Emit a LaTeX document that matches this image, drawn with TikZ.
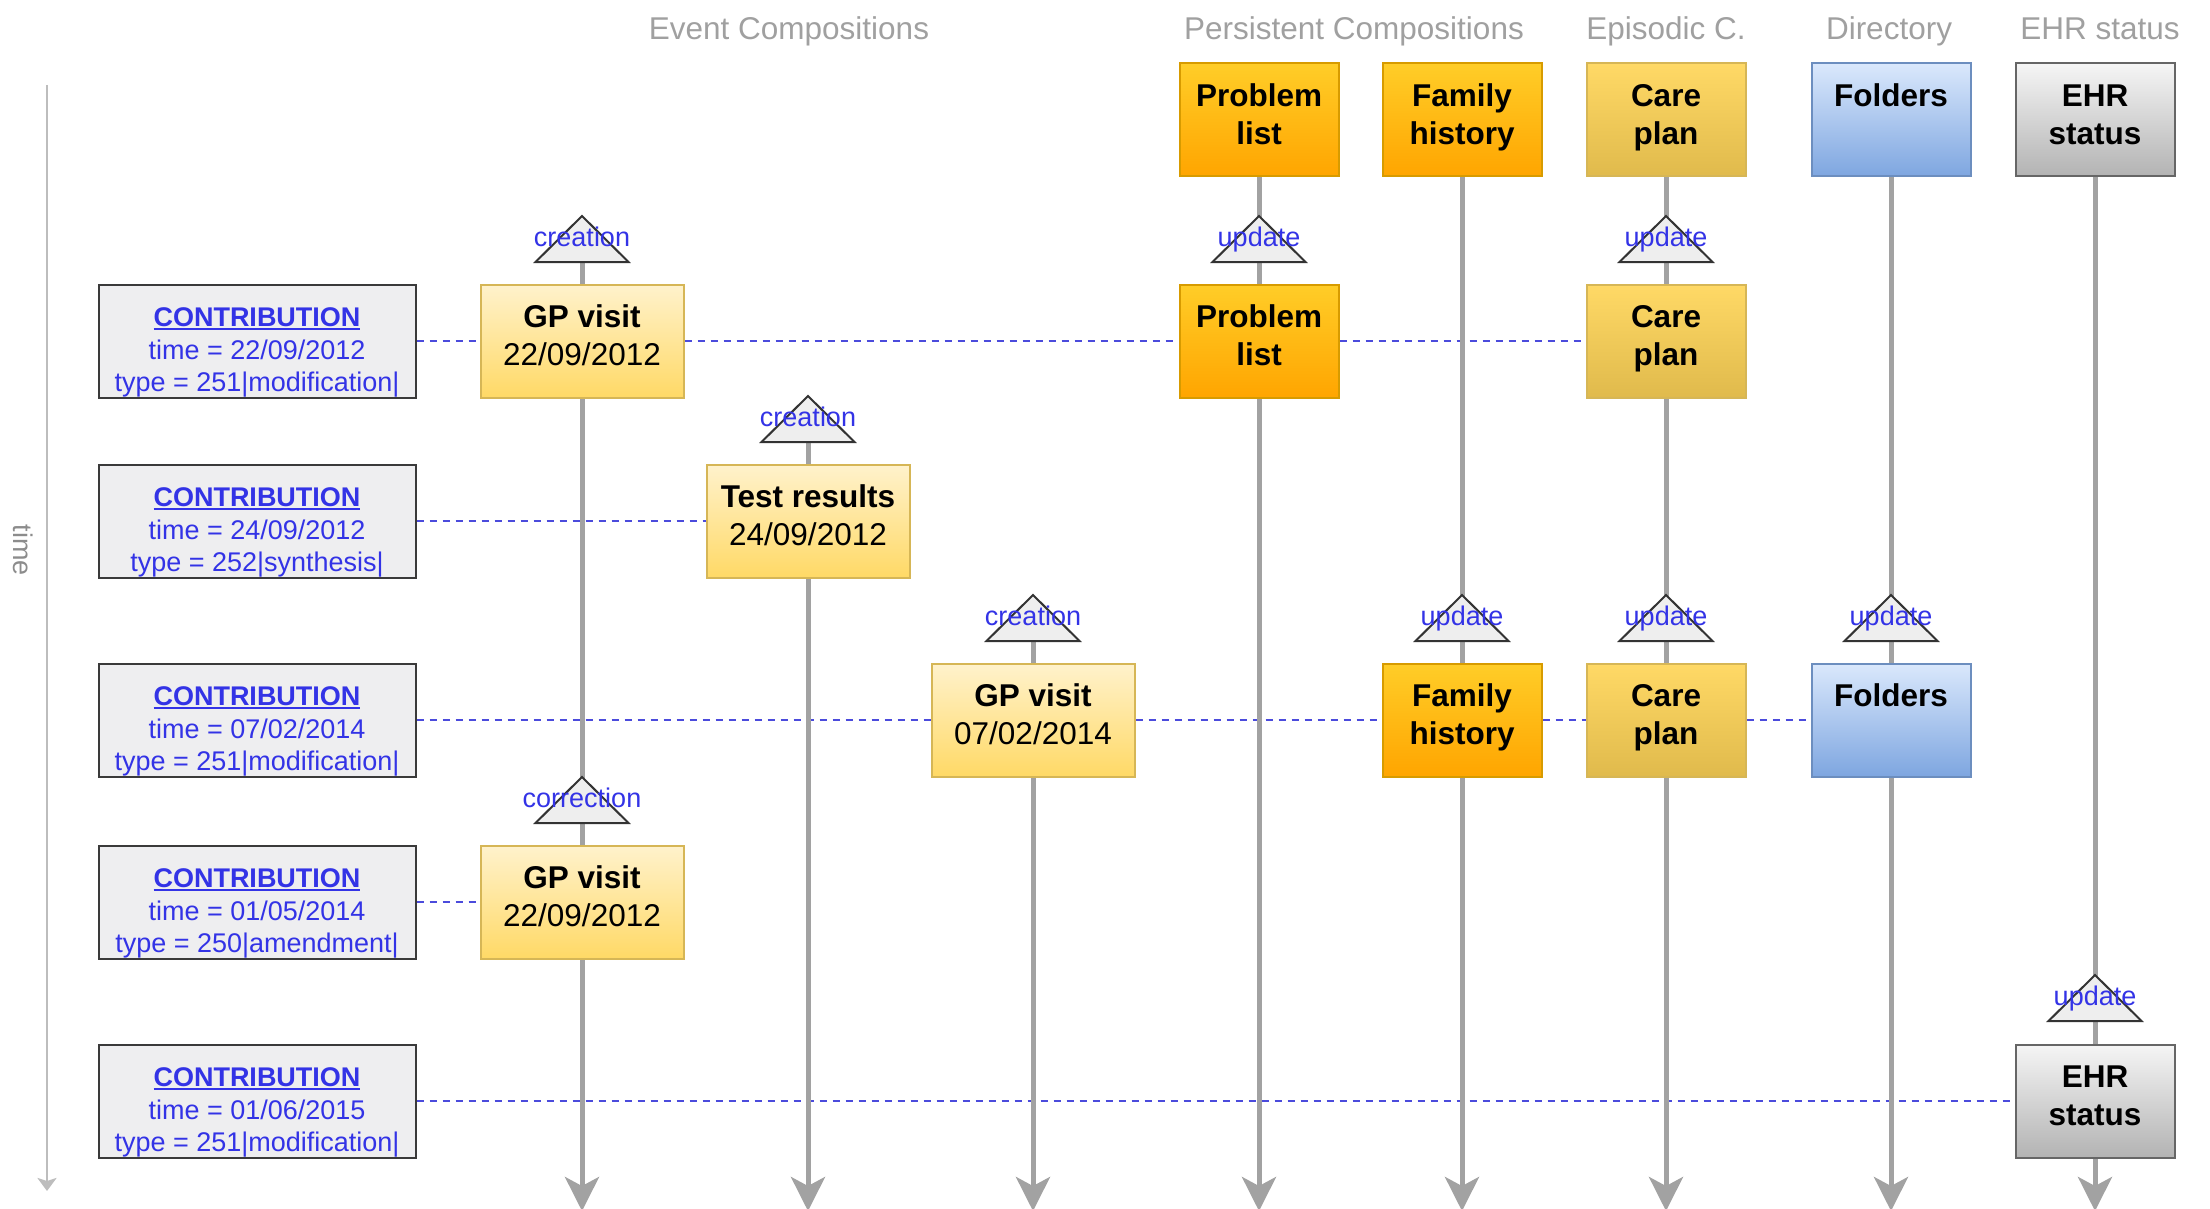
\documentclass[tikz,border=0pt]{standalone}
\usepackage{fontspec}
\setmainfont{Liberation Sans}
\usetikzlibrary{arrows.meta}
\pgfdeclarelayer{bg}
\pgfsetlayers{bg,main}

\definecolor{hdrgrey}{HTML}{A0A0A0}
\definecolor{labelgrey}{HTML}{8C8C8C}
\definecolor{lifegrey}{HTML}{A2A2A2}
\definecolor{timegrey}{HTML}{BDBDBD}
\definecolor{linkblue}{HTML}{4B4BDC}
\definecolor{txtblue}{HTML}{3333E6}
\definecolor{evtop}{HTML}{FFF2CC}
\definecolor{evbot}{HTML}{FFD966}
\definecolor{evline}{HTML}{D6B656}
\definecolor{pertop}{HTML}{FFCD28}
\definecolor{perbot}{HTML}{FFA500}
\definecolor{perline}{HTML}{D79B00}
\definecolor{epitop}{HTML}{FFD966}
\definecolor{epibot}{HTML}{E0BA4C}
\definecolor{epiline}{HTML}{D6B656}
\definecolor{dirtop}{HTML}{DAE8FC}
\definecolor{dirbot}{HTML}{7EA6E0}
\definecolor{dirline}{HTML}{6C8EBF}
\definecolor{ehrtop}{HTML}{F5F5F5}
\definecolor{ehrbot}{HTML}{B3B3B3}
\definecolor{ehrline}{HTML}{666666}
\definecolor{cfill}{HTML}{EEEEF0}
\definecolor{cline}{HTML}{3A3A3A}
\definecolor{trifill}{HTML}{EEEEEE}
\definecolor{tridraw}{HTML}{333333}

\newcommand\fsz[2]{\fontsize{#1}{#2}\selectfont}
% fixed depth for the last line of a box label
\newcommand\ld{\rule[-11pt]{0pt}{0pt}}
\newsavebox\culbox
\newcommand\cul[1]{\sbox\culbox{#1}\rlap{\rule[-3.5pt]{\wd\culbox}{1.8pt}}\usebox\culbox}
\newcommand\ctitle{\rule{0pt}{42pt}{\bfseries\fsz{27}{32.4}\cul{CONTRIBUTION}}}
% change marker: triangle with apex at (#2,#3) and its label node #1
\newcommand\chmark[4]{%
  \path[markshape] (#2,#3) -- ++(-46.5,46) -- ++(93,0) -- cycle;
  \node[marklbl] (#1) at (#2,#3+30) {#4};}

\begin{document}
\begin{tikzpicture}[x=1pt,y=-1pt,
  hdr/.style={text=hdrgrey, font=\fsz{31.5}{38}, inner sep=0pt, anchor=base},
  box/.style={line width=2pt, align=center, inner sep=0pt, minimum height=113pt, font=\fsz{31.5}{38}},
  ev/.style={box, minimum width=203pt, draw=evline, top color=evtop, bottom color=evbot},
  pers/.style={box, minimum width=159pt, draw=perline, top color=pertop, bottom color=perbot, font=\bfseries\fsz{31.5}{38}},
  epi/.style={box, minimum width=159pt, draw=epiline, top color=epitop, bottom color=epibot, font=\bfseries\fsz{31.5}{38}},
  dir/.style={box, minimum width=159pt, draw=dirline, top color=dirtop, bottom color=dirbot, font=\bfseries\fsz{31.5}{38}},
  ehr/.style={box, minimum width=159pt, draw=ehrline, top color=ehrtop, bottom color=ehrbot, font=\bfseries\fsz{31.5}{38}},
  contrib/.style={draw=cline, fill=cfill, line width=2pt, minimum width=317pt, minimum height=113pt,
    align=center, inner sep=0pt, text=txtblue, font=\fsz{27}{32.4}},
  markshape/.style={fill=trifill, draw=tridraw, line width=2pt, line join=miter},
  marklbl/.style={text=txtblue, font=\fsz{27}{32}, inner sep=0pt, anchor=base},
  lifeline/.style={draw=lifegrey, line width=5pt, -{Stealth[length=34pt, width=34pt, inset=9pt]}},
  link/.style={draw=linkblue, line width=2pt, dash pattern=on 7pt off 6pt},
  timeline/.style={draw=timegrey, line width=2.5pt, -{Stealth[length=13pt, width=19pt, inset=3pt]}}
]
\useasboundingbox (0,0) rectangle (2210,1209);

% column headings
\node[hdr] (hEvent) at (789,39.5) {Event Compositions};
\node[hdr] (hPers) at (1354,39.5) {Persistent Compositions};
\node[hdr] (hEpi) at (1666,39.5) {Episodic C.};
\node[hdr] (hDir) at (1889,39.5) {Directory};
\node[hdr] (hEhr) at (2100,39.5) {EHR status};

% time axis
\coordinate (tstart) at (47,85);
\coordinate (tend) at (47,1191);
\node[text=labelgrey, font=\fsz{27}{32}, inner sep=0pt, rotate=-90] (tlabel) at (23,550) {time};

% initial versioned objects
\node[pers] (plT) at (1259,120) {Problem\\list\ld};
\node[pers] (fhT) at (1462,120) {Family\\history\ld};
\node[epi]  (cpT) at (1666,120) {Care\\plan\ld};
\node[dir]  (foT) at (1891,120) {Folders\\\ld};
\node[ehr]  (ehT) at (2095,120) {EHR\\status\ld};

% contributions
\node[contrib] (c1) at (257,341) {\ctitle\\time = 22/09/2012\\type = 251|modification|};
\node[contrib] (c2) at (257,521) {\ctitle\\time = 24/09/2012\\type = 252|synthesis|};
\node[contrib] (c3) at (257,720) {\ctitle\\time = 07/02/2014\\type = 251|modification|};
\node[contrib] (c4) at (257,902) {\ctitle\\time = 01/05/2014\\type = 250|amendment|};
\node[contrib] (c5) at (257,1101) {\ctitle\\time = 01/06/2015\\type = 251|modification|};

% versions committed by each contribution
\node[ev] (gp1) at (582,341) {\textbf{GP visit}\\22/09/2012\ld};
\node[pers] (pl1) at (1259,341) {Problem\\list\ld};
\node[epi] (cp1) at (1666,341) {Care\\plan\ld};

\node[ev] (tr2) at (808,521) {\textbf{Test results}\\24/09/2012\ld};

\node[ev] (gp3) at (1033,720) {\textbf{GP visit}\\07/02/2014\ld};
\node[pers] (fh3) at (1462,720) {Family\\history\ld};
\node[epi] (cp3) at (1666,720) {Care\\plan\ld};
\node[dir] (fo3) at (1891,720) {Folders\\\ld};

\node[ev] (gp4) at (582,902) {\textbf{GP visit}\\22/09/2012\ld};

\node[ehr] (eh5) at (2095,1101) {EHR\\status\ld};

% change markers
\chmark{m1a}{582}{216}{creation}
\chmark{m1b}{1259}{216}{update}
\chmark{m1c}{1666}{216}{update}
\chmark{m2a}{808}{396}{creation}
\chmark{m3a}{1033}{595}{creation}
\chmark{m3b}{1462}{595}{update}
\chmark{m3c}{1666}{595}{update}
\chmark{m3d}{1891}{595}{update}
\chmark{m4a}{582}{777}{correction}
\chmark{m5a}{2095}{975}{update}

% ends of the lifelines
\coordinate (e1) at (582,1211);
\coordinate (e2) at (808,1211);
\coordinate (e3) at (1033,1211);
\coordinate (e4) at (1259,1211);
\coordinate (e5) at (1462,1211);
\coordinate (e6) at (1666,1211);
\coordinate (e7) at (1891,1211);
\coordinate (e8) at (2095,1211);

\begin{pgfonlayer}{bg}
  % contribution links
  \draw[link] (c1.east) -- (gp1.west);
  \draw[link] (gp1.east) -- (pl1.west);
  \draw[link] (pl1.east) -- (cp1.west);
  \draw[link] (c2.east) -- (tr2.west);
  \draw[link] (c3.east) -- (gp3.west);
  \draw[link] (gp3.east) -- (fh3.west);
  \draw[link] (fh3.east) -- (cp3.west);
  \draw[link] (cp3.east) -- (fo3.west);
  \draw[link] (c4.east) -- (gp4.west);
  \draw[link] (c5.east) -- (eh5.west);
  % lifelines
  \draw[lifeline] (m1a.base) -- (e1);
  \draw[lifeline] (m2a.base) -- (e2);
  \draw[lifeline] (m3a.base) -- (e3);
  \draw[lifeline] (plT.south) -- (e4);
  \draw[lifeline] (fhT.south) -- (e5);
  \draw[lifeline] (cpT.south) -- (e6);
  \draw[lifeline] (foT.south) -- (e7);
  \draw[lifeline] (ehT.south) -- (e8);
  % time axis
  \draw[timeline] (tstart) -- (tend);
\end{pgfonlayer}
\end{tikzpicture}
\end{document}
